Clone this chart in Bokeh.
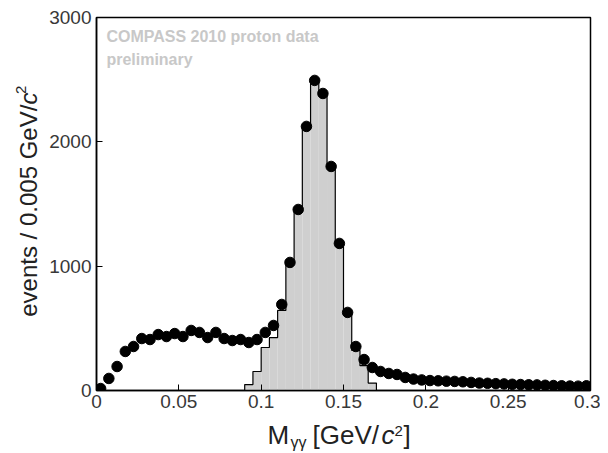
import math
import numpy as np
from bokeh.plotting import figure
from bokeh.layouts import column, row
from bokeh.models import Range1d, FixedTicker, Label
from bokeh.embed import file_html
from bokeh.resources import INLINE

# ---------------- data ----------------
bin_width = 0.005
# measured data: events per 0.005 GeV/c^2, bins from 0 to 0.3
data_counts = [
    16, 97, 193, 314, 354, 418, 410, 450, 434, 458,
    434, 483, 467, 426, 467, 418, 402, 410, 386, 410,
    467, 523, 692, 1030, 1456, 2124, 2494, 2389, 1802, 1183,
    628, 354, 249, 185, 153, 137, 129, 105, 92, 85,
    80, 78, 75, 73, 70, 65, 60, 58, 55, 53,
    50, 48, 46, 45, 42, 40, 38, 36, 35, 38,
]
data_centers = np.arange(len(data_counts)) * bin_width + bin_width / 2

# signal histogram (grey), bins starting at 0.09
hist_first_edge = 0.09
hist_counts = [48, 153, 346, 426, 644, 1046, 1472, 2132, 2510, 2397,
               1794, 1190, 628, 322, 200, 60]
hist_left = hist_first_edge + np.arange(len(hist_counts)) * bin_width
hist_right = hist_left + bin_width

x_ticks = [0, 0.05, 0.1, 0.15, 0.2, 0.25, 0.3]
x_tick_labels = ["0", "0.05", "0.1", "0.15", "0.2", "0.25", "0.3"]
y_ticks = [0, 1000, 2000, 3000]
y_tick_labels = ["0", "1000", "2000", "3000"]

FONT = "Liberation Sans"
LBL = "#222222"

# ---------------- main plot ----------------
p = figure(width=554, height=420, output_backend="svg", toolbar_location=None,
           x_range=Range1d(0, 0.3), y_range=Range1d(0, 3000),
           min_border_left=49, min_border_right=10, min_border_top=17,
           min_border_bottom=30)
p.xgrid.visible = False
p.ygrid.visible = False
p.outline_line_color = "black"
p.outline_line_width = 1.5

# histogram fill
p.quad(left=hist_left, right=hist_right, bottom=0, top=hist_counts,
       fill_color="#cfcfcf", line_color=None)
# histogram outline (step)
sx = [hist_left[0]]
sy = [0]
for l, r, c in zip(hist_left, hist_right, hist_counts):
    sx += [l, r]
    sy += [c, c]
sx.append(hist_right[-1])
sy.append(0)
p.line(sx, sy, line_color="black", line_width=1.2)

# data points
p.scatter(data_centers, data_counts, size=10.5, color="black")

for ax in (p.xaxis[0], p.yaxis[0]):
    ax.axis_line_color = "black"
    ax.axis_line_width = 1.5
    ax.major_tick_in = 6
    ax.major_tick_out = 0
    ax.major_tick_line_color = "black"
    ax.minor_tick_line_color = None
    ax.major_label_text_font = FONT
    ax.major_label_text_font_size = "19px"
    ax.major_label_text_color = "#383838"

p.xaxis.ticker = FixedTicker(ticks=x_ticks)
p.xaxis.major_label_overrides = dict(zip(x_ticks, x_tick_labels))
p.xaxis.major_label_standoff = 4
p.yaxis.ticker = FixedTicker(ticks=y_ticks)
p.yaxis.major_label_overrides = dict(zip(y_ticks, y_tick_labels))
p.yaxis.major_label_standoff = 5

# watermark text
for yy, txt in ((2844, "COMPASS 2010 proton data"), (2659, "preliminary")):
    p.add_layout(Label(x=0.006, y=yy, text=txt, text_font=FONT,
                       text_font_size="16px", text_font_style="bold",
                       text_color="#c8c8c8", text_baseline="middle"))


def strip(w, h):
    f = figure(width=w, height=h, output_backend="svg", toolbar_location=None,
               x_range=Range1d(0, w), y_range=Range1d(0, h),
               x_axis_type=None, y_axis_type=None, min_border=0)
    f.xgrid.visible = False
    f.ygrid.visible = False
    f.outline_line_color = None
    return f


def lab(f, x, y, text, size, style="normal", angle=0):
    f.add_layout(Label(x=x, y=y, text=text, text_font=FONT,
                       text_font_size=size, text_font_style=style,
                       text_color=LBL, angle=angle,
                       text_baseline="middle", text_align="left"))


# ---------------- y-axis label strip ----------------
ys = strip(46, 420)
lab(ys, 28, 83, "events / 0.005 GeV/", "24px", angle=math.pi / 2)
lab(ys, 28, 322, "c", "24px", "italic", angle=math.pi / 2)
lab(ys, 20.5, 334, "2", "15px", angle=math.pi / 2)

# ---------------- x-axis label strip ----------------
xs = strip(600, 33)
lab(xs, 267, 18.5, "M", "26px")
lab(xs, 290, 11.5, "γγ", "16px")
lab(xs, 312, 18.5, "[GeV/", "26px")
lab(xs, 381, 18.5, "c", "26px", "italic")
lab(xs, 394, 23, "2", "15px")
lab(xs, 403, 18.5, "]", "26px")

layout = column(row(ys, p, spacing=0), xs, spacing=0)
open("out.html", "w").write(file_html(layout, INLINE))
